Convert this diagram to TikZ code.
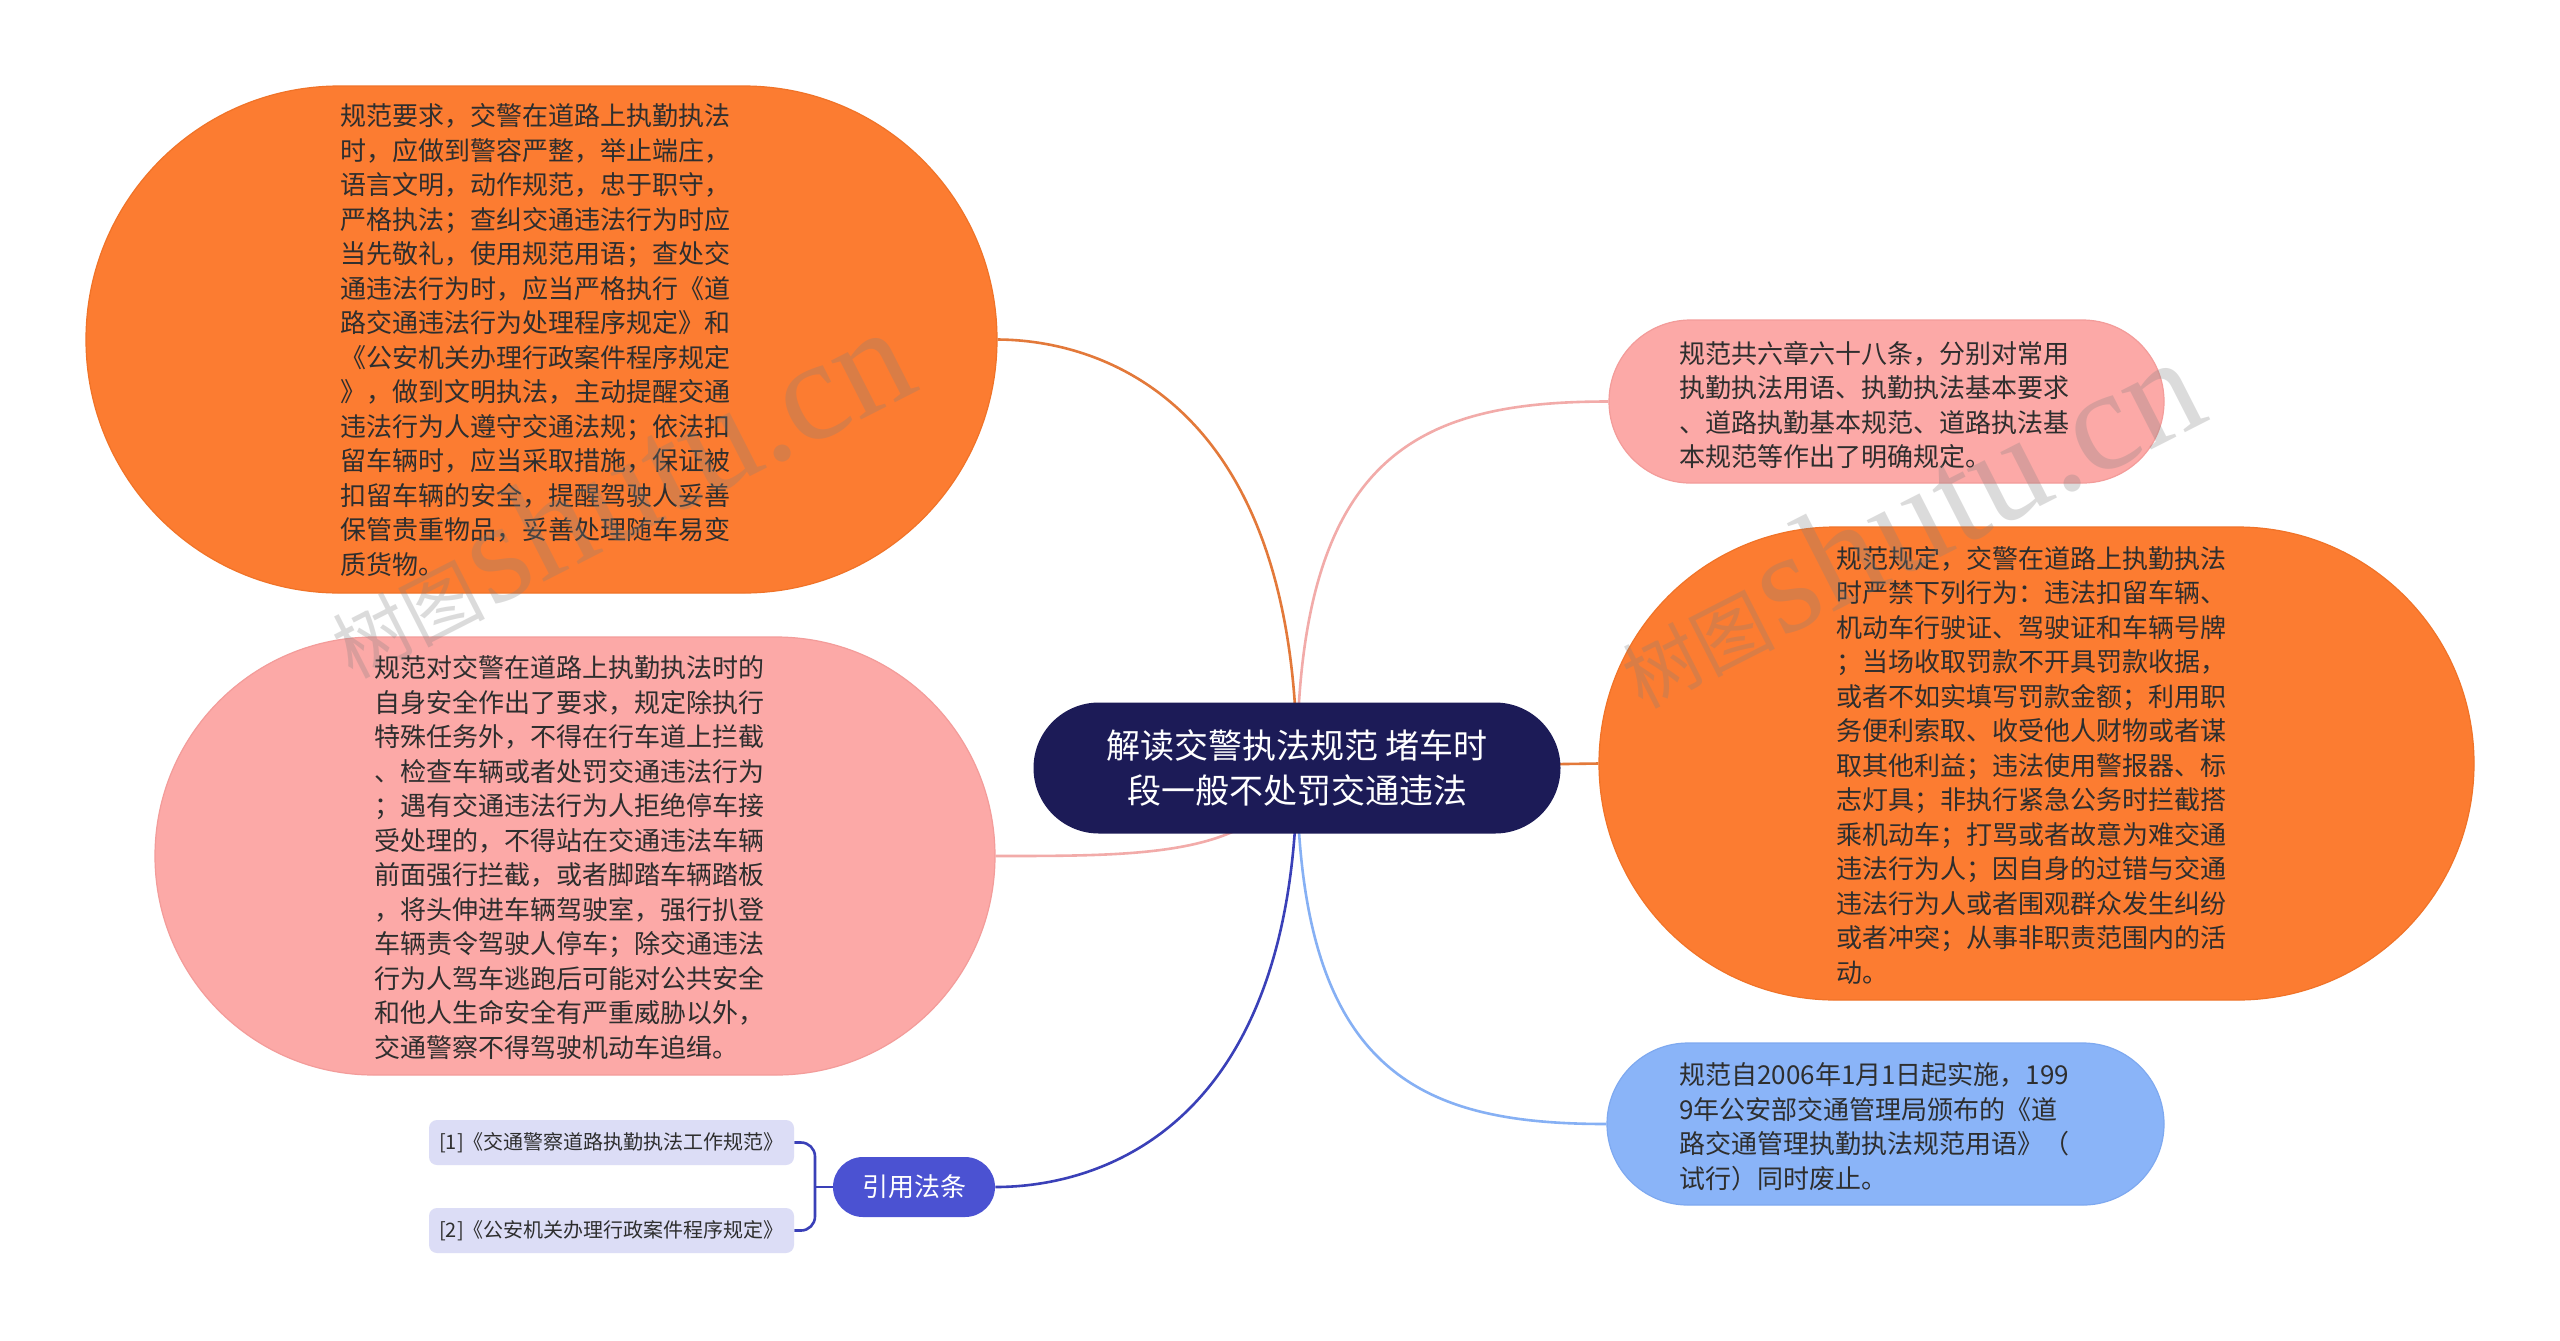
\documentclass[tikz,border=0pt]{standalone}
\usepackage{fontspec}
\setmainfont{Noto Sans CJK SC}
\newfontfamily\wmserif{Liberation Serif}
\usetikzlibrary{backgrounds}
\definecolor{orangeF}{HTML}{FC7C31}
\definecolor{orangeB}{HTML}{F07328}
\definecolor{orangeL}{HTML}{E3793A}
\definecolor{pinkF}{HTML}{FCA9A7}
\definecolor{pinkB}{HTML}{F39C9A}
\definecolor{pinkL}{HTML}{F2ABA9}
\definecolor{blueF}{HTML}{8AB4F8}
\definecolor{blueB}{HTML}{7EA9F0}
\definecolor{blueL}{HTML}{86B0F4}
\definecolor{navyF}{HTML}{1C1B57}
\definecolor{refF}{HTML}{4B52D2}
\definecolor{refL}{HTML}{3A40B8}
\definecolor{lavF}{HTML}{DCDDF6}
\definecolor{txt}{HTML}{2E2E2E}
\tikzset{
  bshape/.style={inner sep=0pt, line width=0.6pt},
  btext/.style={inner sep=0pt, align=left, text=txt, anchor=west,
    font=\fontsize{13pt}{17.25pt}\selectfont},
  conn/.style={line width=1.3pt},
  refbox/.style={fill=lavF, rounded corners=4pt, minimum width=182.5pt,
    minimum height=22.5pt, inner sep=0pt, text=txt,
    font=\fontsize{10pt}{12pt}\selectfont},
  wm/.style={text=gray, text opacity=0.28, inner sep=0pt}
}
\begin{document}
\begin{tikzpicture}[x=0.5pt,y=-0.5pt]
\useasboundingbox (0,0) rectangle (2560,1340);
\begin{scope}[on background layer]
\fill[white] (0,0) rectangle (2560,1340);
\end{scope}

% central topic
\node[fill=navyF, rounded corners=32.75pt, minimum width=263.5pt,
  minimum height=65.5pt, inner sep=0pt, align=center, text=white,
  font=\fontsize{17pt}{22.5pt}\selectfont] (ctr) at (1297,768)
  {解读交警执法规范 堵车时\\段一般不处罚交通违法};

% top-left orange
\node[bshape, fill=orangeF, draw=orangeB, rounded corners=126.75pt,
  minimum width=455.5pt, minimum height=253.5pt] (tl) at (541.5,339.5) {};
\node[btext] (tltx) at (340,340)
  {规范要求，交警在道路上执勤执法\\
   时，应做到警容严整，举止端庄，\\
   语言文明，动作规范，忠于职守，\\
   严格执法；查纠交通违法行为时应\\
   当先敬礼，使用规范用语；查处交\\
   通违法行为时，应当严格执行《道\\
   路交通违法行为处理程序规定》和\\
   《公安机关办理行政案件程序规定\\
   》，做到文明执法，主动提醒交通\\
   违法行为人遵守交通法规；依法扣\\
   留车辆时，应当采取措施，保证被\\
   扣留车辆的安全，提醒驾驶人妥善\\
   保管贵重物品，妥善处理随车易变\\
   质货物。};

% left pink
\node[bshape, fill=pinkF, draw=pinkB, rounded corners=109.5pt,
  minimum width=420pt, minimum height=219pt] (lp) at (575,856) {};
\node[btext] (lptx) at (374,857.5)
  {规范对交警在道路上执勤执法时的\\
   自身安全作出了要求，规定除执行\\
   特殊任务外，不得在行车道上拦截\\
   、检查车辆或者处罚交通违法行为\\
   ；遇有交通违法行为人拒绝停车接\\
   受处理的，不得站在交通违法车辆\\
   前面强行拦截，或者脚踏车辆踏板\\
   ，将头伸进车辆驾驶室，强行扒登\\
   车辆责令驾驶人停车；除交通违法\\
   行为人驾车逃跑后可能对公共安全\\
   和他人生命安全有严重威胁以外，\\
   交通警察不得驾驶机动车追缉。};

% right pink
\node[bshape, fill=pinkF, draw=pinkB, rounded corners=40.75pt,
  minimum width=277.5pt, minimum height=81.5pt] (rp) at (1886.5,401.5) {};
\node[btext] (rptx) at (1679,405)
  {规范共六章六十八条，分别对常用\\
   执勤执法用语、执勤执法基本要求\\
   、道路执勤基本规范、道路执法基\\
   本规范等作出了明确规定。};

% right orange
\node[bshape, fill=orangeF, draw=orangeB, rounded corners=118.25pt,
  minimum width=437.5pt, minimum height=236.5pt] (ro) at (2036.5,763.5) {};
\node[btext] (rotx) at (1836,765)
  {规范规定，交警在道路上执勤执法\\
   时严禁下列行为：违法扣留车辆、\\
   机动车行驶证、驾驶证和车辆号牌\\
   ；当场收取罚款不开具罚款收据，\\
   或者不如实填写罚款金额；利用职\\
   务便利索取、收受他人财物或者谋\\
   取其他利益；违法使用警报器、标\\
   志灯具；非执行紧急公务时拦截搭\\
   乘机动车；打骂或者故意为难交通\\
   违法行为人；因自身的过错与交通\\
   违法行为人或者围观群众发生纠纷\\
   或者冲突；从事非职责范围内的活\\
   动。};

% right blue
\node[bshape, fill=blueF, draw=blueB, rounded corners=40.5pt,
  minimum width=278.5pt, minimum height=81pt] (rb) at (1885.5,1124) {};
\node[btext] (rbtx) at (1679,1126.5)
  {规范自2006年1月1日起实施，199\\
   9年公安部交通管理局颁布的《道\\
   路交通管理执勤执法规范用语》（\\
   试行）同时废止。};

% references
\node[fill=refF, rounded corners=15pt, minimum width=81pt, minimum height=30pt,
  inner sep=0pt, text=white, font=\fontsize{13pt}{15pt}\selectfont]
  (ref) at (914,1187) {引用法条};
\node[refbox] (r1) at (611.5,1142.5) {[1]《交通警察道路执勤执法工作规范》};
\node[refbox] (r2) at (611.5,1230.5) {[2]《公安机关办理行政案件程序规定》};
\coordinate (brk) at (815,1187);

\begin{scope}[on background layer]
\draw[conn, orangeL] (ctr.center) .. controls (1297,400) and (1100,340) .. (tl.east);
\draw[conn, pinkL] (ctr.center) .. controls (1260,856) and (1150,856) .. (lp.east);
\draw[conn, pinkL] (ctr.center) .. controls (1297,452) and (1420,401.5) .. (rp.west);
\draw[conn, orangeL] (ctr.center) -- (ro.west);
\draw[conn, blueL] (ctr.center) .. controls (1297,1074) and (1420,1124) .. (rb.west);
\draw[conn, refL] (ctr.center) .. controls (1297,1128) and (1100,1187) .. (ref.east);
\draw[conn, refL, rounded corners=7pt] (r1.east) -- (815,1142.5) -- (815,1230.5) -- (r2.east);
\draw[conn, refL] (brk) -- (ref.west);
\end{scope}

% watermarks
\node[wm, rotate=27, anchor=base west] (wm1) at (352,680)
  {{\fontsize{38pt}{38pt}\selectfont 树图} {\wmserif\fontsize{72pt}{72pt}\selectfont shutu.cn}};
\node[wm, rotate=27, anchor=base west] (wm2) at (1642,710)
  {{\fontsize{38pt}{38pt}\selectfont 树图} {\wmserif\fontsize{72pt}{72pt}\selectfont shutu.cn}};
\end{tikzpicture}
\end{document}
